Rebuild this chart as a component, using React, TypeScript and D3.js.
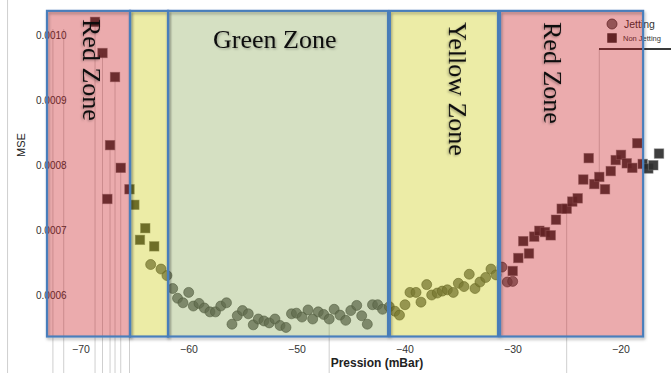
import React from 'react'
import * as d3 from 'd3'

// axis ticks
const xTicks = [-70, -60, -50, -40, -30, -20]
const yTicks = [0.0006, 0.0007, 0.0008, 0.0009, 0.001]

// Jetting (circles)
const jettingPressure = [
    -63.55, -62.59, -62.04, -61.51, -61.06, -60.56, -60.03, -59.6, -59.07, -58.58,
    -58.06, -57.55, -57.06, -56.53, -56.02, -55.53, -55.05, -54.51, -54.05, -53.58,
    -53.06, -52.57, -52.04, -51.57, -51.02, -50.51, -50.05, -49.54, -48.98, -48.55,
    -48.03, -47.53, -47.02, -46.56, -46.02, -45.49, -45.02, -44.47, -44.01, -43.49,
    -43.01, -42.53, -42.08, -41.45, -40.93, -40.51, -40.0, -39.54, -38.98, -38.52,
    -37.99, -37.53, -37.01, -36.55, -36.08, -35.53, -35.06, -34.54, -34.05, -33.52,
    -33.06, -32.53, -32.04, -31.57, -31.02, -30.53, -30.03,
]
const jettingMSE = [
    0.000647, 0.00064, 0.00063, 0.00061, 0.000595, 0.000588, 0.000604, 0.000583, 0.000587, 0.00058,
    0.000574, 0.000574, 0.000583, 0.000588, 0.000555, 0.000568, 0.000576, 0.000571, 0.000554, 0.000563,
    0.00056, 0.000557, 0.000563, 0.000553, 0.00055, 0.000571, 0.000572, 0.000566, 0.000577, 0.000563,
    0.000574, 0.00057, 0.000563, 0.000578, 0.000569, 0.000561, 0.000576, 0.000584, 0.000568, 0.000555,
    0.000585, 0.000585, 0.000578, 0.000582, 0.000575, 0.000569, 0.000585, 0.000604, 0.000604, 0.000589,
    0.000616, 0.0006, 0.000603, 0.000606, 0.000608, 0.000604, 0.000618, 0.000613, 0.000632, 0.00061,
    0.00062, 0.000627, 0.00064, 0.000631, 0.000643, 0.00062, 0.000621,
]

// Non Jetting (squares)
const nonJettingPressure = [
    -68.7, -68.01, -66.85, -67.31, -66.32, -65.51, -67.56, -65.06, -64.05, -64.54, -63.22,
    -30.03, -29.51, -29.05, -28.52, -28.03, -27.56, -27.04, -26.51, -26.02, -25.49,
    -25.03, -24.51, -24.01, -23.49, -22.99, -22.47, -22.01, -21.48, -20.95, -20.49,
    -20.0, -19.47, -18.95, -18.49, -17.99, -17.47, -17.01, -16.48,
]
const nonJettingMSE = [
    0.001021, 0.000973, 0.000936, 0.000831, 0.000796, 0.000763, 0.000748, 0.000739, 0.000703, 0.000685, 0.000675,
    0.000637, 0.000657, 0.000683, 0.000664, 0.00069, 0.000699, 0.000697, 0.000692, 0.000716, 0.000733,
    0.000733, 0.000744, 0.000749, 0.000778, 0.000811, 0.000771, 0.000782, 0.000763, 0.000791, 0.000808,
    0.000816, 0.000803, 0.000796, 0.000834, 0.000802, 0.000795, 0.0008, 0.000818,
]

// zones
const zoneNames = ['Red Zone', '', 'Green Zone', 'Yellow Zone', 'Red Zone']
const zoneKinds = ['red', 'yellow', 'green', 'yellow', 'red']
const zoneFrom = [-73.15, -65.46, -61.94, -41.4, -31.2]
const zoneTo = [-65.46, -61.94, -41.57, -31.39, -17.95]
const zoneTopMSE = 0.001038
const zoneBottomMSE = 0.000536

// faint leader lines (null = runs off the bottom)
const leaderPressure = [-76.8, -72.6, -71.6, -68.7, -68.01, -67.31, -66.85, -66.32, -65.51, -47.02, -25.03, -22.01]
const leaderTop = [0.00106, 0.00101, 0.00101, 0.001021, 0.000973, 0.000831, 0.000936, 0.000796, 0.000763, 0.000563, 0.000733, 0.000979]
const leaderBottom = [null, null, null, null, null, null, null, null, null, null, null, 0.000782]

const W = 671
const H = 373

const zoneFill = {
    red: 'rgba(198,14,20,0.35)',
    yellow: 'rgba(200,200,0,0.35)',
    green: 'rgba(135,166,80,0.35)',
}

// where each zone's label sits, relative to the zone's left edge
const labelLayout = [
    { vertical: true, dx: 36, y: 19 },
    null,
    { vertical: false, dx: 45, y: 48 },
    { vertical: true, dx: 59, y: 22 },
    { vertical: true, dx: 44, y: 22 },
]

export default function App() {
    const x = d3.scaleLinear().domain([-70, -20]).range([81, 621])
    const y = d3.scaleLinear().domain([0.0006, 0.001]).range([295, 35.5])
    const fmtY = d3.format('.4f')
    const fmtX = d3.format('d')

    const jetting = jettingPressure.map((p, i) => ({ p, v: jettingMSE[i] }))
    const nonJetting = nonJettingPressure.map((p, i) => ({ p, v: nonJettingMSE[i] }))
    const sq = 9.5
    const sans = '"Liberation Sans", Arial, sans-serif'
    const serif = '"Liberation Serif", "Times New Roman", serif'
    const zTop = y(zoneTopMSE)
    const zBot = y(zoneBottomMSE)

    return (
        <svg width={W} height={H} style={{ position: 'absolute', left: 0, top: 0, background: '#fff' }}>
            <defs>
                <filter id="boxShadow" x="-5%" y="-5%" width="115%" height="115%">
                    <feDropShadow dx="1" dy="2" stdDeviation="1.5" floodColor="#000" floodOpacity="0.3" />
                </filter>
                <filter id="txtShadow" x="-10%" y="-10%" width="130%" height="130%">
                    <feDropShadow dx="1.2" dy="1.2" stdDeviation="1" floodColor="#000" floodOpacity="0.3" />
                </filter>
            </defs>

            {/* leader lines */}
            {leaderPressure.map((p, i) => (
                <line
                    key={'l' + i}
                    x1={x(p)}
                    x2={x(p)}
                    y1={y(leaderTop[i])}
                    y2={leaderBottom[i] == null ? H : y(leaderBottom[i])}
                    stroke="#cfcfcf"
                    strokeWidth={1}
                />
            ))}

            {/* y tick labels */}
            {yTicks.map((t) => (
                <text key={'y' + t} x={36} y={y(t)} dy="0.35em" fontSize={10} fontFamily={sans} fill="#333">
                    {fmtY(t)}
                </text>
            ))}

            {/* x tick labels */}
            {xTicks.map((t) => (
                <text key={'x' + t} x={x(t)} y={353} textAnchor="middle" fontSize={10.5} fontFamily={sans} fill="#333">
                    {fmtX(t).replace('-', '\u2212')}
                </text>
            ))}

            <text x={377} y={367} textAnchor="middle" fontSize={12} fontWeight="bold" fontFamily={sans} fill="#222">
                Pression (mBar)
            </text>
            <text transform="translate(25,145) rotate(-90)" textAnchor="middle" fontSize={11} fontFamily={sans} fill="#222">
                MSE
            </text>

            {/* points */}
            {jetting.map((d, i) => (
                <circle key={'c' + i} cx={x(d.p)} cy={y(d.v)} r={5} fill="#4d4d4d" fillOpacity={0.75} stroke="#333" strokeOpacity={0.7} strokeWidth={0.8} />
            ))}
            {nonJetting.map((d, i) => (
                <rect key={'s' + i} x={x(d.p) - sq / 2} y={y(d.v) - sq / 2} width={sq} height={sq} fill="#2e2e2e" fillOpacity={0.92} stroke="#777" strokeOpacity={0.6} strokeWidth={0.8} />
            ))}

            {/* legend */}
            <line x1={599} x2={W} y1={49} y2={49} stroke="#3a3a3a" strokeWidth={2.2} />
            <circle cx={612} cy={24} r={5} fill="#4d4d4d" fillOpacity={0.75} stroke="#333" strokeWidth={0.8} />
            <rect x={612 - sq / 2} y={38 - sq / 2} width={sq} height={sq} fill="#2e2e2e" />
            <text x={624} y={28} fontSize={10.5} fontFamily={sans} fill="#333">Jetting</text>
            <text x={623} y={41} fontSize={7.5} fontFamily={sans} fill="#333">Non Jetting</text>

            {/* zone overlays */}
            {zoneKinds.map((k, i) => (
                <rect key={'zf' + i} x={x(zoneFrom[i])} y={zTop} width={x(zoneTo[i]) - x(zoneFrom[i])} height={zBot - zTop} fill={zoneFill[k]} />
            ))}
            {zoneKinds.map((k, i) => (
                <rect key={'zb' + i} x={x(zoneFrom[i])} y={zTop} width={x(zoneTo[i]) - x(zoneFrom[i])} height={zBot - zTop} fill="none" stroke="#4a7ebb" strokeWidth={2.2} filter="url(#boxShadow)" />
            ))}

            {/* zone labels */}
            {zoneNames.map((name, i) => {
                const lay = labelLayout[i]
                if (!name || !lay) return null
                const bx = x(zoneFrom[i]) + lay.dx
                return lay.vertical ? (
                    <text key={'zt' + i} transform={`translate(${bx},${lay.y}) rotate(90)`} fontSize={26} fontFamily={serif} fill="#111" filter="url(#txtShadow)">
                        {name}
                    </text>
                ) : (
                    <text key={'zt' + i} x={bx} y={lay.y} fontSize={26} fontFamily={serif} fill="#111" filter="url(#txtShadow)">
                        {name}
                    </text>
                )
            })}
        </svg>
    )
}
